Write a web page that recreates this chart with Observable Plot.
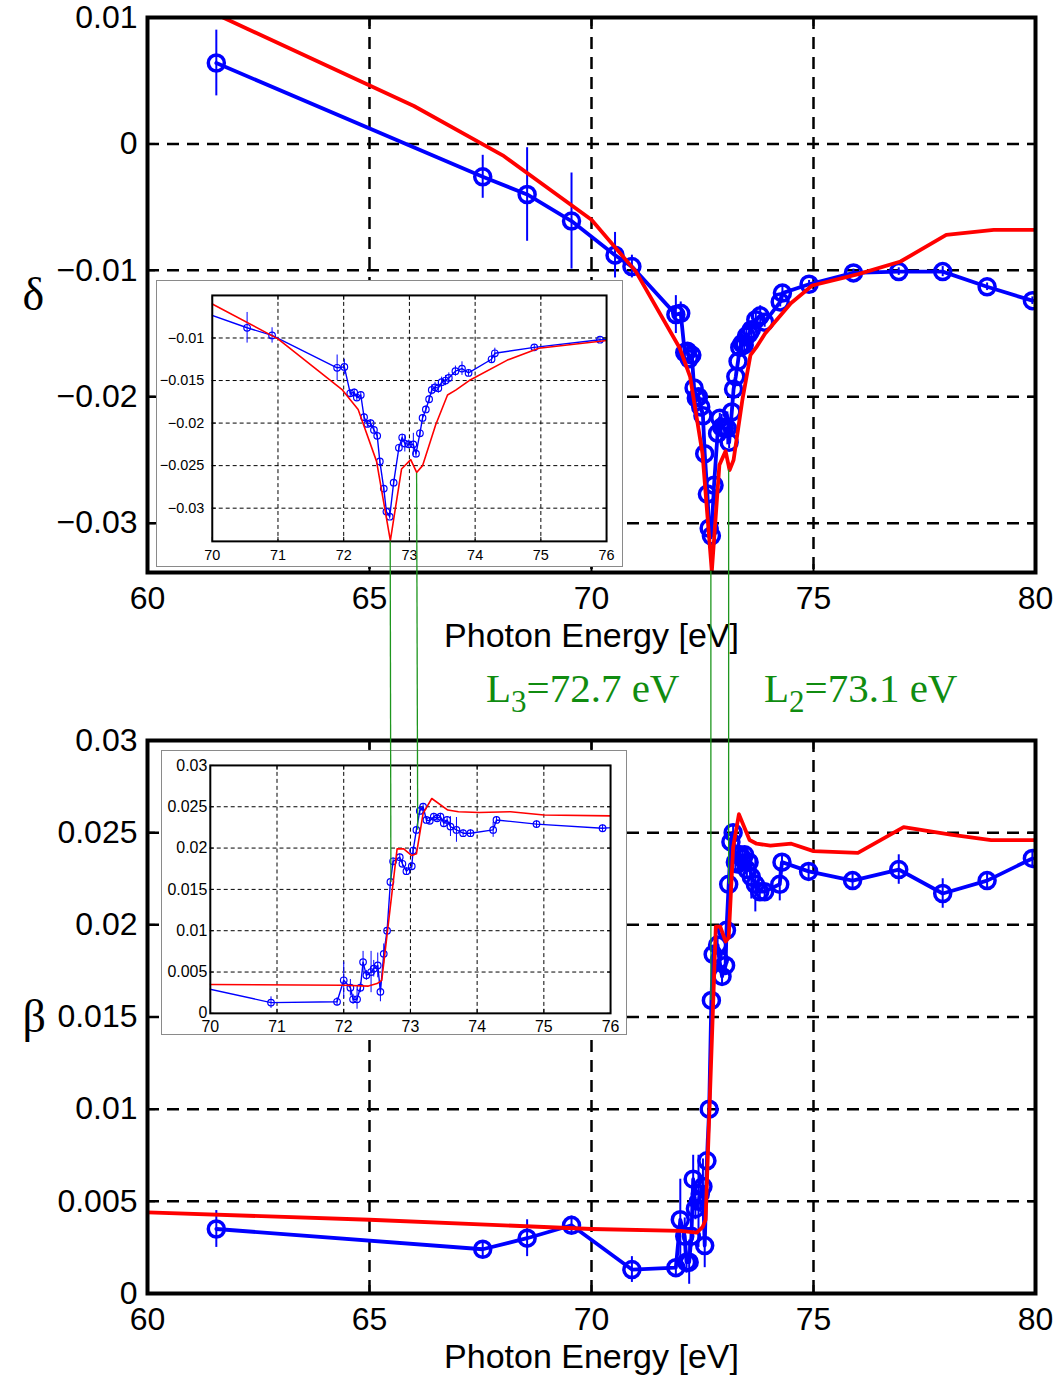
<!DOCTYPE html>
<html><head><meta charset="utf-8">
<script src="https://cdn.jsdelivr.net/npm/d3@7"></script>
<script src="https://cdn.jsdelivr.net/npm/@observablehq/plot@0.6"></script>
<style>
body{margin:0;background:#fff;}
#page{position:relative;width:1061px;height:1378px;overflow:hidden;background:#fff;}
.edge{position:absolute;font-family:"Liberation Serif","Times New Roman",serif;font-size:41px;line-height:41px;color:rgb(16,140,16);white-space:nowrap;}
.edge span{font-size:31px;position:relative;top:10px;}
</style></head><body><div id="page"></div>
<script>
// ---------- data ----------
const deltaE = [61.55, 67.55, 68.55, 69.55, 70.53, 70.91, 71.90, 72.01, 72.10, 72.16, 72.20, 72.26, 72.31, 72.36, 72.41, 72.46, 72.51, 72.55, 72.61, 72.65, 72.70, 72.76, 72.84, 72.89, 72.93, 72.99, 73.06, 73.10, 73.16, 73.20, 73.25, 73.30, 73.34, 73.39, 73.44, 73.49, 73.55, 73.60, 73.70, 73.80, 73.90, 74.25, 74.30, 74.90, 75.90, 76.92, 77.91, 78.91, 79.93];
const deltaV = [0.0064, -0.0026, -0.0040, -0.0061, -0.0088, -0.0097, -0.0135, -0.0134, -0.0165, -0.0164, -0.0170, -0.0167, -0.0193, -0.0201, -0.0200, -0.0208, -0.0215, -0.0245, -0.0277, -0.0304, -0.0310, -0.0270, -0.0229, -0.0217, -0.0224, -0.0225, -0.0225, -0.0236, -0.0212, -0.0194, -0.0184, -0.0172, -0.0161, -0.0158, -0.0159, -0.0152, -0.0150, -0.0147, -0.0139, -0.0136, -0.0141, -0.0125, -0.0118, -0.0111, -0.0102, -0.0101, -0.0101, -0.0113, -0.0124];
const deltaErr = [0.0026, 0.0017, 0.0037, 0.0038, 0.0018, 0.0009, 0.0015, 0.0009, 0.0004, 0.0004, 0.0004, 0.0004, 0.0004, 0.0004, 0.0004, 0.0004, 0.0004, 0.0003, 0.0003, 0.0003, 0.0003, 0.0003, 0.0004, 0.0004, 0.0010, 0.0005, 0.0013, 0.0005, 0.0004, 0.0004, 0.0004, 0.0004, 0.0006, 0.0006, 0.0006, 0.0006, 0.0006, 0.0006, 0.0006, 0.0008, 0.0004, 0.0004, 0.0006, 0.0003, 0.0003, 0.0003, 0.0004, 0.0003, 0.0003];
const deltaModelE = [61.7, 66.0, 68.0, 70.0, 71.0, 71.98, 72.22, 72.50, 72.71, 72.88, 73.02, 73.11, 73.20, 73.40, 73.58, 73.71, 73.91, 74.49, 74.97, 76.01, 76.96, 77.99, 79.06, 80.0];
const deltaModelV = [0.0100, 0.0030, -0.0009, -0.0060, -0.0101, -0.0161, -0.0184, -0.0245, -0.0338, -0.0254, -0.0243, -0.0258, -0.0250, -0.0202, -0.0167, -0.0161, -0.0150, -0.0126, -0.0112, -0.0103, -0.0093, -0.0072, -0.0068, -0.0068];

const betaE = [61.55, 67.55, 68.55, 69.55, 70.91, 71.90, 72.00, 72.10, 72.14, 72.20, 72.25, 72.29, 72.34, 72.41, 72.45, 72.51, 72.55, 72.60, 72.65, 72.70, 72.74, 72.84, 72.88, 72.94, 73.02, 73.04, 73.09, 73.14, 73.19, 73.24, 73.29, 73.35, 73.40, 73.45, 73.50, 73.55, 73.60, 73.69, 73.79, 73.90, 74.24, 74.29, 74.89, 75.88, 76.92, 77.91, 78.91, 79.93];
const betaV = [0.0035, 0.0024, 0.0030, 0.0037, 0.0013, 0.0014, 0.0040, 0.0031, 0.0017, 0.0017, 0.0031, 0.0062, 0.0046, 0.0050, 0.0054, 0.0058, 0.0026, 0.0072, 0.0100, 0.0159, 0.0184, 0.0189, 0.0181, 0.0172, 0.0178, 0.0197, 0.0222, 0.0245, 0.0250, 0.0234, 0.0233, 0.0238, 0.0236, 0.0238, 0.0230, 0.0234, 0.0226, 0.0222, 0.0218, 0.0218, 0.0222, 0.0234, 0.0229, 0.0224, 0.0230, 0.0217, 0.0224, 0.0236];
const betaErr = [0.0010, 0.0004, 0.0010, 0.0005, 0.0007, 0.0005, 0.0022, 0.0010, 0.0006, 0.0012, 0.0006, 0.0013, 0.0006, 0.0025, 0.0010, 0.0015, 0.0012, 0.0012, 0.0004, 0.0004, 0.0004, 0.0004, 0.0004, 0.0004, 0.0004, 0.0004, 0.0004, 0.0004, 0.0004, 0.0004, 0.0004, 0.0004, 0.0004, 0.0004, 0.0004, 0.0004, 0.0012, 0.0015, 0.0004, 0.0004, 0.0009, 0.0004, 0.0004, 0.0004, 0.0008, 0.0008, 0.0004, 0.0004];
const betaModelE = [60, 65, 70, 72.0, 72.37, 72.5, 72.57, 72.80, 72.90, 73.02, 73.09, 73.19, 73.32, 73.56, 73.72, 74.03, 74.50, 75.0, 76.0, 77.03, 78.09, 79.0, 80.0];
const betaModelV = [0.0044, 0.0040, 0.0035, 0.0034, 0.0033, 0.0036, 0.0040, 0.0199, 0.0199, 0.0191, 0.0193, 0.0242, 0.0260, 0.0246, 0.0244, 0.0243, 0.0244, 0.0240, 0.0239, 0.0253, 0.0249, 0.0246, 0.0246];

const mainXTicks = [60, 65, 70, 75, 80];
const mainXLabels = ["60", "65", "70", "75", "80"];
const insetXTicks = [70, 71, 72, 73, 74, 75, 76];
const insetXLabels = ["70", "71", "72", "73", "74", "75", "76"];
const deltaTicks = [0.01, 0, -0.01, -0.02, -0.03];
const deltaLabels = ["0.01", "0", "\u22120.01", "\u22120.02", "\u22120.03"];
const deltaInsetTicks = [-0.01, -0.015, -0.02, -0.025, -0.03];
const deltaInsetLabels = ["\u22120.01", "\u22120.015", "\u22120.02", "\u22120.025", "\u22120.03"];
const betaTicks = [0, 0.005, 0.01, 0.015, 0.02, 0.025, 0.03];
const betaLabels = ["0", "0.005", "0.01", "0.015", "0.02", "0.025", "0.03"];
const edgeE = [72.7, 73.1];
const edgeNames = ["L", "L"];
const edgeSubs = ["3", "2"];
const edgeTexts = ["=72.7 eV", "=73.1 eV"];
const xTitle = "Photon Energy [eV]";
const deltaName = "\u03b4";
const betaName = "\u03b2";

// ---------- helpers ----------
const BLUE = "#0000ff", RED = "#ff0000", GREEN = "rgb(30,150,30)";
const rows = (E, V, Er) => E.map((e, i) => ({E: e, v: V[i], err: Er ? Er[i] : 0}));
const nearest = (E, V, x) => { let b = 0; E.forEach((e, i) => { if (Math.abs(e - x) < Math.abs(E[b] - x)) b = i; }); return V[b]; };

function panel(o) {
  const meas = rows(o.mE, o.mV, o.mErr), model = rows(o.rE, o.rV);
  const fmt = (ticks, labels) => d => labels[ticks.indexOf(d)];
  const marks = [
    Plot.ruleX(o.gridX, {stroke: "black", strokeWidth: o.dashW, strokeDasharray: o.dash}),
    Plot.ruleY(o.gridY, {stroke: "black", strokeWidth: o.dashW, strokeDasharray: o.dash}),
    Plot.ruleX(meas, {x: "E", y1: d => d.v - d.err, y2: d => d.v + d.err, stroke: BLUE, strokeWidth: o.ew, clip: true}),
    Plot.line(meas, {x: "E", y: "v", stroke: BLUE, strokeWidth: o.lw, clip: true}),
    Plot.dot(meas, {x: "E", y: "v", r: o.r, stroke: BLUE, strokeWidth: o.sw, fill: "none", clip: true}),
    Plot.line(model, {x: "E", y: "v", stroke: RED, strokeWidth: o.rw, clip: true}),
    Plot.frame({stroke: "black", strokeWidth: o.frameW}),
    Plot.axisX(o.xTicks, {anchor: "bottom", label: null, tickSize: -o.tick, tickPadding: o.xPad + o.tick, strokeWidth: o.tickW, fontSize: o.fs, tickFormat: fmt(o.xTicks, o.xLabels)}),
    Plot.axisX(o.xTicks, {anchor: "top", label: null, tickSize: -o.tick, strokeWidth: o.tickW, tickFormat: () => ""}),
    Plot.axisY(o.yTicks, {anchor: "left", label: null, tickSize: -o.tick, tickPadding: o.yPad + o.tick, strokeWidth: o.tickW, fontSize: o.fs, tickFormat: fmt(o.yTicks, o.yLabels)}),
    Plot.axisY(o.yTicks, {anchor: "right", label: null, tickSize: -o.tick, strokeWidth: o.tickW, tickFormat: () => ""})
  ];
  if (o.yName) marks.push(Plot.text([o.yName], {text: d => d, frameAnchor: "left", dx: -125, fontSize: 46, fontFamily: "Liberation Serif, serif"}));
  if (o.xName) marks.push(Plot.text([o.xName], {text: d => d, frameAnchor: "bottom", dy: 74, fontSize: 34}));
  const p = Plot.plot({
    width: o.width, height: o.height,
    marginLeft: o.ml, marginRight: o.mr, marginTop: o.mt, marginBottom: o.mb,
    x: {domain: o.xDomain, label: null},
    y: {domain: o.yDomain, label: null},
    style: {fontFamily: "Liberation Sans, Arial, sans-serif", fontSize: o.fs + "px", background: o.bg, overflow: "visible", color: "black"},
    marks
  });
  p.style.position = "absolute";
  p.style.left = o.left + "px";
  p.style.top = o.top + "px";
  if (o.border) { p.style.border = "1px solid #8a8a8a"; p.style.boxSizing = "border-box"; }
  return p;
}

const mainStyle = {width: 1061, ml: 147, mr: 26, lw: 3.8, rw: 3.8, r: 8, sw: 3.5, ew: 2, dash: "12,8", dashW: 2.5, frameW: 4, tick: 8, tickW: 2, fs: 32, xPad: 14, yPad: 10, bg: "transparent", left: 0,
  xDomain: [60, 80], xTicks: mainXTicks, xLabels: mainXLabels, gridX: [65, 70, 75], xName: xTitle};
const insetStyle = {lw: 1.4, rw: 1.6, r: 3.3, sw: 1.2, ew: 1, dash: "4,3", dashW: 1, frameW: 2, tick: 4, tickW: 1, bg: "white", border: true,
  xDomain: [70, 76], xTicks: insetXTicks, xLabels: insetXLabels, gridX: [71, 72, 73, 74, 75]};

const page = document.getElementById("page");

const topMain = panel({...mainStyle, height: 660, mt: 17, mb: 88, top: 0,
  yDomain: [-0.0339, 0.01], yTicks: deltaTicks, yLabels: deltaLabels, gridY: [0, -0.01, -0.02, -0.03], yName: deltaName,
  mE: deltaE, mV: deltaV, mErr: deltaErr, rE: deltaModelE, rV: deltaModelV});
const botMain = panel({...mainStyle, height: 678, mt: 40, mb: 85, top: 700,
  yDomain: [0, 0.03], yTicks: betaTicks, yLabels: betaLabels, gridY: [0.005, 0.01, 0.015, 0.02, 0.025], yName: betaName,
  mE: betaE, mV: betaV, mErr: betaErr, rE: betaModelE, rV: betaModelV});
const topInset = panel({...insetStyle, width: 467, height: 286, ml: 55, mr: 16, mt: 14, mb: 25, left: 156, top: 280, fs: 14.5, xPad: 8, yPad: 8,
  yDomain: [-0.0339, -0.005], yTicks: deltaInsetTicks, yLabels: deltaInsetLabels, gridY: [-0.01, -0.015, -0.02, -0.025, -0.03],
  mE: deltaE, mV: deltaV, mErr: deltaErr, rE: deltaModelE, rV: deltaModelV});
const botInset = panel({...insetStyle, width: 466, height: 284, ml: 48, mr: 16, mt: 14, mb: 21, left: 161, top: 750, fs: 16, xPad: 7, yPad: 3,
  yDomain: [0, 0.03], yTicks: betaTicks, yLabels: betaLabels, gridY: [0.005, 0.01, 0.015, 0.02, 0.025],
  mE: betaE, mV: betaV, mErr: betaErr, rE: betaModelE, rV: betaModelV});

[topMain, botMain, topInset, botInset].forEach(p => page.appendChild(p));

// edge labels
const labelLeft = [486, 764];
edgeE.forEach((e, i) => {
  const d = document.createElement("div");
  d.className = "edge";
  d.style.left = labelLeft[i] + "px";
  d.style.top = "668px";
  d.innerHTML = edgeNames[i] + "<span>" + edgeSubs[i] + "</span>" + edgeTexts[i];
  page.appendChild(d);
});

// green connector lines through the plots' own scales
const ov = d3.select(page).append("svg").attr("width", 1061).attr("height", 1378)
  .style("position", "absolute").style("left", "0px").style("top", "0px").style("pointer-events", "none");
function connect(pTop, offTop, pBot, offBot, e) {
  const yd = pTop.scale("y").domain;
  const vTop = Math.max(nearest(deltaModelE, deltaModelV, e), Math.min(...yd));
  const vBot = nearest(betaE, betaV, e);
  const x1 = pTop.scale("x").apply(e) + offTop[0], y1 = pTop.scale("y").apply(vTop) + offTop[1];
  const x2 = pBot.scale("x").apply(e) + offBot[0], y2 = pBot.scale("y").apply(vBot) + offBot[1];
  ov.append("line").attr("x1", x1).attr("y1", y1).attr("x2", x2).attr("y2", y2)
    .attr("stroke", GREEN).attr("stroke-width", 1.3);
}
edgeE.forEach(e => {
  connect(topMain, [0, 0], botMain, [0, 700], e);
  connect(topInset, [157, 281], botInset, [162, 751], e);
});
</script></body></html>
